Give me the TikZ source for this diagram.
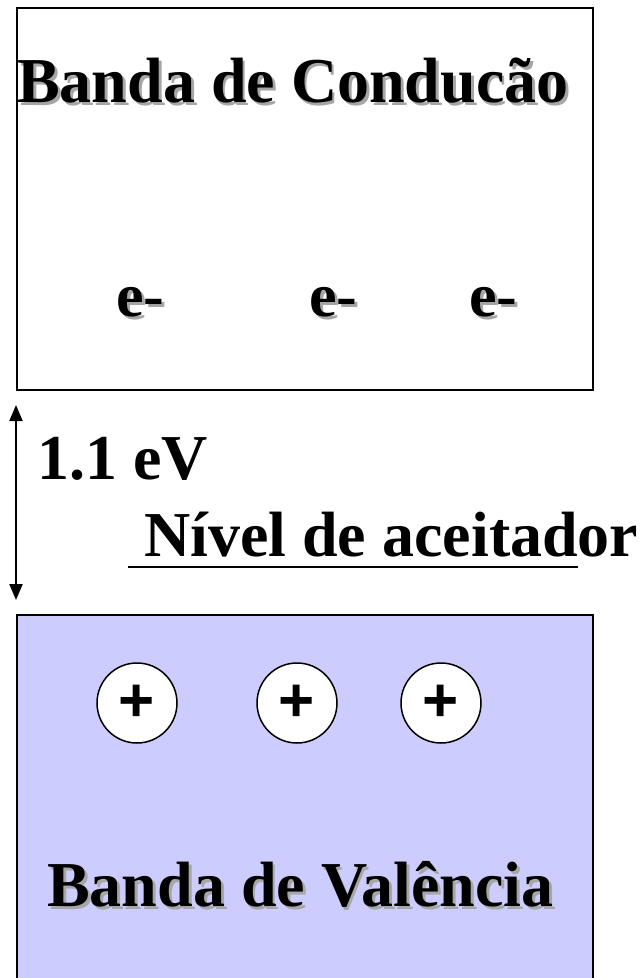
\documentclass[tikz,border=0pt]{standalone}
\usepackage{fontspec}
\setmainfont{Liberation Serif}
\newfontfamily\plusfont{Liberation Sans}
\usetikzlibrary{arrows.meta}
\definecolor{valfill}{HTML}{CCCCFF}
\newcommand\shd[1]{\makebox[0pt][l]{\kern3pt\raisebox{-3pt}{\textcolor{black!35}{#1}}}#1}
\tikzset{
  band/.style={draw=black, line width=2pt},
  big/.style={anchor=base west, inner sep=0pt, font=\bfseries\fontsize{64}{64}\selectfont},
  elec/.style={anchor=base west, inner sep=0pt, font=\bfseries\fontsize{62}{62}\selectfont},
  hole/.style={circle, draw=black, line width=1.5pt, fill=white, minimum size=80pt, inner sep=0pt, font=\plusfont\bfseries\fontsize{62}{62}\selectfont},
  gaparrow/.style={line width=2pt, >={Triangle[length=16pt,width=13pt]}, <->},
}
\begin{document}
\begin{tikzpicture}[x=1pt,y=-1pt]
\useasboundingbox (0,0) rectangle (641,978);
% conduction band
\draw[band] (17,8) rectangle (593,390);
\node[big] (cond) at (17,102) {\shd{Banda de Conduc\~ao}};
\node[elec] (e1) at (116,316) {\shd{e-}};
\node[elec] (e2) at (309,316) {\shd{e-}};
\node[elec] (e3) at (469,316) {\shd{e-}};
% gap
\coordinate (atop) at (16,405);
\coordinate (abot) at (16,600);
\draw[gaparrow] (atop) -- (abot);
\node[big] (gap) at (37,479) {1.1 eV};
\node[big] (acc) at (144,556) {N\'ivel de aceitador};
\coordinate (ul) at (128,567);
\coordinate (ur) at (578,567);
\draw[line width=2pt] (ul) -- (ur);
% valence band
\fill[valfill] (17,615) rectangle (593,980);
\draw[band] (17,981) -- (17,615) -- (593,615) -- (593,981);
\node[hole] (h1) at (137,703) {+};
\node[hole] (h2) at (297,703) {+};
\node[hole] (h3) at (441,703) {+};
\node[big] (val) at (47,906) {\shd{Banda de Val\^encia}};
\end{tikzpicture}
\end{document}
